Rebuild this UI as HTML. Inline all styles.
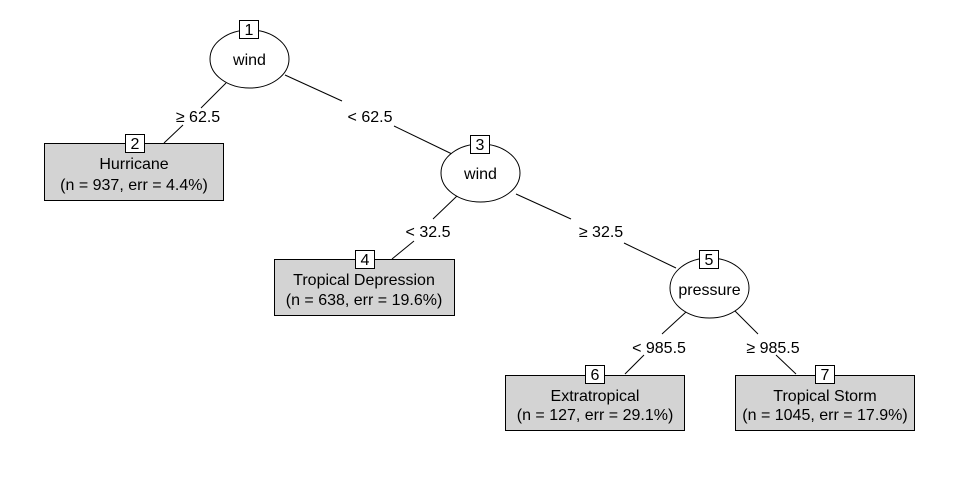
<!DOCTYPE html>
<html><head><style>body{margin:0;background:#fff}svg{display:block}text{font-family:"Liberation Sans",Arial,sans-serif;font-size:16px;fill:#000}</style></head>
<body>
<svg width="960" height="480" viewBox="0 0 960 480" xmlns="http://www.w3.org/2000/svg">
<rect width="960" height="480" fill="#fff"/>
<g stroke="#000" stroke-width="1" fill="none">
<line x1="226" y1="83" x2="201" y2="108"/><line x1="183" y1="125" x2="164" y2="143"/>
<line x1="285" y1="75" x2="342" y2="101"/><line x1="394" y1="126" x2="452" y2="154"/>
<line x1="457" y1="196" x2="433" y2="219"/><line x1="414" y1="241" x2="392" y2="259"/>
<line x1="516" y1="194" x2="571" y2="219"/><line x1="624" y1="243" x2="676" y2="268"/>
<line x1="686" y1="312" x2="662" y2="334"/><line x1="644" y1="355" x2="625" y2="374"/>
<line x1="735" y1="311" x2="758" y2="334"/><line x1="776" y1="355" x2="796" y2="374"/>
</g>
<g stroke="#000" fill="#fff">
<ellipse cx="249.5" cy="59" rx="39.5" ry="29"/>
<ellipse cx="480.5" cy="173" rx="39.5" ry="29"/>
<ellipse cx="709.5" cy="288" rx="39.5" ry="30"/>
</g>
<g stroke="#000" fill="#d3d3d3">
<rect x="44.5" y="143.5" width="179" height="57"/>
<rect x="274.5" y="259.5" width="180" height="56"/>
<rect x="505.5" y="375.5" width="179" height="55"/>
<rect x="735.5" y="375.5" width="179" height="55"/>
</g>
<g stroke="#000" fill="#fff">
<rect x="239.5" y="20.5" width="19" height="18"/>
<rect x="125.5" y="134.5" width="19" height="18"/>
<rect x="470.5" y="135.5" width="19" height="18"/>
<rect x="355.5" y="250.5" width="19" height="18"/>
<rect x="699.5" y="250.5" width="19" height="18"/>
<rect x="585.5" y="365.5" width="19" height="18"/>
<rect x="815.5" y="365.5" width="19" height="18"/>
</g>
<g text-anchor="middle">
<text x="249" y="35">1</text><text x="135" y="149">2</text><text x="480" y="150">3</text>
<text x="365" y="265">4</text><text x="709" y="265">5</text><text x="595" y="380">6</text><text x="825" y="380">7</text>
<text x="249.5" y="65">wind</text><text x="480.5" y="179">wind</text><text x="709.5" y="295">pressure</text>
<text x="134" y="169">Hurricane</text><text x="134" y="190">(n = 937, err = 4.4%)</text>
<text x="364" y="285">Tropical Depression</text><text x="364" y="305">(n = 638, err = 19.6%)</text>
<text x="595" y="401">Extratropical</text><text x="595" y="420">(n = 127, err = 29.1%)</text>
<text x="825" y="401">Tropical Storm</text><text x="825" y="420">(n = 1045, err = 17.9%)</text>
<text x="198" y="122">≥ 62.5</text><text x="370" y="122">&lt; 62.5</text>
<text x="428" y="237">&lt; 32.5</text><text x="601" y="237">≥ 32.5</text>
<text x="659" y="353">&lt; 985.5</text><text x="773" y="353">≥ 985.5</text>
</g>
</svg>
</body></html>
